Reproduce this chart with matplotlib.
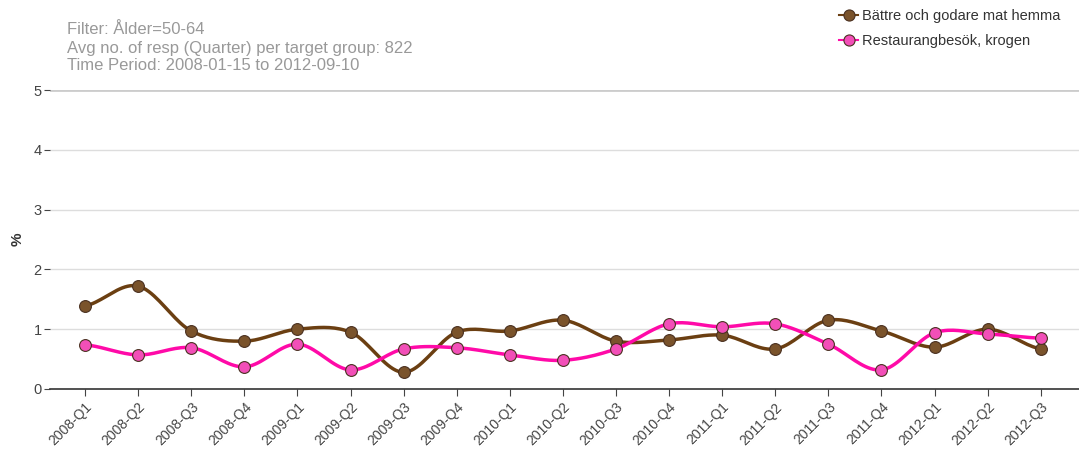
import numpy as np
import matplotlib.pyplot as plt

quarters = ["2008-Q1", "2008-Q2", "2008-Q3", "2008-Q4",
            "2009-Q1", "2009-Q2", "2009-Q3", "2009-Q4",
            "2010-Q1", "2010-Q2", "2010-Q3", "2010-Q4",
            "2011-Q1", "2011-Q2", "2011-Q3", "2011-Q4",
            "2012-Q1", "2012-Q2", "2012-Q3"]
battre = [1.39, 1.72, 0.97, 0.80, 1.00, 0.95, 0.28, 0.95, 0.97, 1.15,
          0.80, 0.82, 0.90, 0.67, 1.15, 0.97, 0.70, 1.00, 0.67]
restaurang = [0.74, 0.57, 0.69, 0.37, 0.75, 0.32, 0.67, 0.69, 0.57, 0.48,
              0.67, 1.09, 1.04, 1.09, 0.75, 0.32, 0.94, 0.92, 0.85]
yticks = [0, 1, 2, 3, 4, 5]


def smooth(y, n=20):
    # catmull-rom style curve through the points (like a spline series)
    y = np.asarray(y, dtype=float)
    p = np.concatenate([[y[0]], y, [y[-1]]])
    xs, ys = [], []
    for i in range(len(y) - 1):
        p0, p1, p2, p3 = p[i], p[i+1], p[i+2], p[i+3]
        t = np.linspace(0, 1, n, endpoint=False)
        m1 = (p2 - p0) / 2
        m2 = (p3 - p1) / 2
        h00 = 2*t**3 - 3*t**2 + 1
        h10 = t**3 - 2*t**2 + t
        h01 = -2*t**3 + 3*t**2
        h11 = t**3 - t**2
        xs.append(i + t)
        ys.append(h00*p1 + h10*m1 + h01*p2 + h11*m2)
    xs.append([len(y) - 1])
    ys.append([y[-1]])
    return np.concatenate(xs), np.concatenate(ys)


plt.rcParams['font.family'] = ['Liberation Sans', 'DejaVu Sans']

fig = plt.figure(figsize=(10.79, 4.5), dpi=100)
ax = fig.add_axes([50/1079, 1 - 389/450, 1 - 50/1079, (389 - 90)/450])

x = np.arange(len(quarters))
series = [(battre, "#6b3f12", "#7a532b", "Bättre och godare mat hemma"),
          (restaurang, "#ff0aa8", "#f24fb8", "Restaurangbesök, krogen")]
for vals, lc, mc, lab in series:
    sx, sy = smooth(vals)
    ax.plot(sx, sy, color=lc, lw=2.5, zorder=3)
    ax.plot(x, vals, 'o', ms=8.5, mfc=mc, mec="#4a3020", mew=0.8, zorder=4)
    ax.plot([], [], color=lc, lw=1.5, marker='o', ms=8, mfc=mc,
            mec="#4a3020", mew=0.8, label=lab)

ax.set_xlim(-0.66, 18.72)
ax.set_ylim(0, 5)
ax.set_yticks(yticks)
ax.set_xticks(x)
ax.set_xticklabels(quarters, rotation=45, ha='right', rotation_mode='anchor',
                   fontsize=10, color='#444444')
ax.tick_params(axis='y', length=4, color='#444444', labelcolor='#444444',
               labelsize=10.5, pad=2)
ax.tick_params(axis='x', length=5, color='#444444', pad=3)
for yv in yticks[1:]:
    ax.axhline(yv, color='#cccccc' if yv == 5 else '#dddddd',
               lw=2 if yv == 5 else 1, zorder=1)
for s in ['top', 'right', 'left']:
    ax.spines[s].set_visible(False)
ax.spines['bottom'].set_color('#333333')
ax.spines['bottom'].set_linewidth(1.2)
ax.set_ylabel('%', fontweight='bold', fontsize=11, color='#333333', labelpad=6)

fig.text(67/1079, 1 - 48/450,
         "Filter: Ålder=50-64\nAvg no. of resp (Quarter) per target group: 822\n"
         "Time Period: 2008-01-15 to 2012-09-10",
         color='#999999', fontsize=12, va='center', linespacing=1.25)

leg = ax.legend(loc='upper left', bbox_to_anchor=(832/1079, 1 - 2/450),
                bbox_transform=fig.transFigure, frameon=False, fontsize=10.5,
                handlelength=1.3, handletextpad=0.25, labelspacing=0.75,
                borderpad=0)
for t in leg.get_texts():
    t.set_color('#333333')

fig.savefig('out.png', dpi=100)
